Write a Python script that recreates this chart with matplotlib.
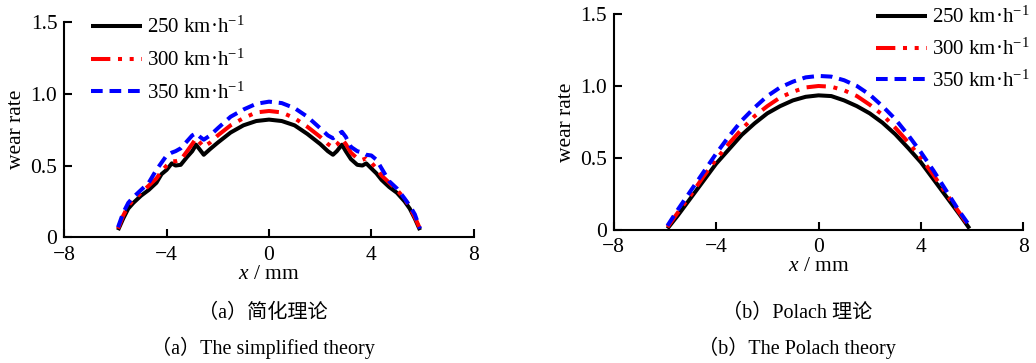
import matplotlib
matplotlib.use("Agg")
import matplotlib.pyplot as plt
from matplotlib.ticker import FixedLocator

plt.rcParams['font.family'] = ['Liberation Serif', 'Noto Sans CJK SC', 'DejaVu Sans']
plt.rcParams['mathtext.fontset'] = 'custom'
plt.rcParams['mathtext.rm'] = 'Liberation Serif'
plt.rcParams['mathtext.it'] = 'Liberation Serif:italic'

# ---------------- data ----------------
labels = ["250 km·h$^{-1}$", "300 km·h$^{-1}$", "350 km·h$^{-1}$"]

# (a) simplified theory
x_a = [-5.9, -5.7, -5.5, -5.3, -5.0, -4.7, -4.4, -4.2, -4.0, -3.8, -3.65, -3.45,
       -3.2, -3.0, -2.85, -2.7, -2.55, -2.3, -2.0, -1.5, -1.0, -0.5, 0.0,
       0.5, 1.0, 1.5, 2.0, 2.3, 2.5, 2.65, 2.85, 3.0, 3.2, 3.45, 3.65, 3.8,
       4.0, 4.2, 4.4, 4.7, 5.0, 5.3, 5.5, 5.7, 5.9]
a_250 = [0.05, 0.13, 0.20, 0.24, 0.29, 0.33, 0.38, 0.44, 0.47, 0.515, 0.50, 0.505,
         0.56, 0.60, 0.645, 0.61, 0.575, 0.615, 0.66, 0.73, 0.78, 0.81, 0.82,
         0.81, 0.78, 0.72, 0.65, 0.60, 0.575, 0.60, 0.645, 0.60, 0.545, 0.505, 0.50, 0.515,
         0.48, 0.445, 0.40, 0.35, 0.31, 0.25, 0.20, 0.13, 0.05]
a_300 = [0.06, 0.15, 0.22, 0.26, 0.31, 0.36, 0.41, 0.46, 0.50, 0.53, 0.53, 0.54,
         0.60, 0.65, 0.69, 0.66, 0.63, 0.66, 0.71, 0.78, 0.83, 0.87, 0.88,
         0.87, 0.83, 0.77, 0.70, 0.65, 0.625, 0.645, 0.685, 0.65, 0.59, 0.55, 0.54, 0.55,
         0.52, 0.48, 0.43, 0.38, 0.33, 0.27, 0.21, 0.14, 0.06]
a_350 = [0.07, 0.17, 0.24, 0.28, 0.33, 0.38, 0.47, 0.52, 0.57, 0.59, 0.60, 0.62,
         0.67, 0.71, 0.725, 0.70, 0.68, 0.71, 0.76, 0.84, 0.89, 0.93, 0.945,
         0.935, 0.90, 0.84, 0.76, 0.71, 0.69, 0.71, 0.735, 0.70, 0.63, 0.60, 0.59, 0.575,
         0.57, 0.54, 0.48, 0.39, 0.34, 0.27, 0.22, 0.16, 0.06]

# (b) Polach theory
x_b = [-5.9, -5.5, -5.0, -4.5, -4.0, -3.5, -3.0, -2.5, -2.0, -1.5, -1.0, -0.5, 0.0,
       0.5, 1.0, 1.5, 2.0, 2.5, 3.0, 3.5, 4.0, 4.5, 5.0, 5.5, 5.9]
b_250 = [0.01, 0.10, 0.22, 0.34, 0.46, 0.56, 0.66, 0.74, 0.81, 0.86, 0.90, 0.925, 0.935,
         0.93, 0.90, 0.86, 0.81, 0.745, 0.665, 0.57, 0.47, 0.35, 0.23, 0.11, 0.01]
b_300 = [0.02, 0.12, 0.24, 0.37, 0.49, 0.60, 0.70, 0.79, 0.86, 0.92, 0.96, 0.99, 1.00,
         0.995, 0.97, 0.93, 0.87, 0.80, 0.71, 0.61, 0.50, 0.38, 0.25, 0.12, 0.02]
b_350 = [0.03, 0.14, 0.27, 0.40, 0.53, 0.65, 0.76, 0.85, 0.93, 0.99, 1.03, 1.06, 1.07,
         1.065, 1.04, 1.00, 0.94, 0.86, 0.77, 0.66, 0.54, 0.41, 0.27, 0.13, 0.03]

x_ticks = [-8, -4, 0, 4, 8]
x_ticklabels = ["−8", "−4", "0", "4", "8"]
y_ticks = [0, 0.5, 1.0, 1.5]
y_ticklabels = ["0", "0.5", "1.0", "1.5"]

captions_cn = ["（a）简化理论", "（b）Polach 理论"]
captions_en = ["（a）The simplified theory", "（b）The Polach theory"]

# ---------------- figure ----------------
W, H = 1036, 363
fig = plt.figure(figsize=(W / 100, H / 100), dpi=100)

def px_axes(l, r, b, t):
    return fig.add_axes([l / W, 1 - b / H, (r - l) / W, (b - t) / H])

axA = px_axes(64.3, 473.7, 237.3, 22.0)
axB = px_axes(613.7, 1023.3, 230.0, 14.0)

styles = [
    dict(color='black', lw=2.9, ls='-'),
    dict(color='#ff0000', lw=2.9, ls=(0, (4.8, 1.9, 1.0, 1.9, 1.0, 1.9))),
    dict(color='#0000ff', lw=2.9, ls=(0, (2.9, 1.7))),
]

for ax, xs, series in [(axA, x_a, [a_250, a_300, a_350]),
                       (axB, x_b, [b_250, b_300, b_350])]:
    for ys, st, lab in zip(series, styles, labels):
        ax.plot(xs, ys, label=lab, solid_capstyle='butt', dash_capstyle='butt', **st)
    ax.set_xlim(-8, 8)
    ax.set_ylim(0, 1.5)
    ax.spines['top'].set_visible(False)
    ax.spines['right'].set_visible(False)
    ax.spines['left'].set_linewidth(1.5)
    ax.spines['bottom'].set_linewidth(1.5)
    ax.xaxis.set_major_locator(FixedLocator(x_ticks))
    ax.set_xticklabels(x_ticklabels)
    ax.yaxis.set_major_locator(FixedLocator(y_ticks))
    ax.set_yticklabels(y_ticklabels)
    ax.tick_params(direction='in', length=6, width=1.5, labelsize=15.5)
    ax.tick_params(axis='x', pad=6)
    ax.tick_params(axis='y', pad=5)
    ax.set_ylabel("wear rate", fontsize=15.5, labelpad=3)
    ax.set_xlabel("$x$ / mm", fontsize=15.5, labelpad=0)
    for sp in ax.spines.values():
        sp.set_clip_on(False)

legA = axA.legend(loc='upper left', bbox_to_anchor=(91 / W, 1 - 17 / H),
                  bbox_transform=fig.transFigure, frameon=False, fontsize=15,
                  handlelength=2.45, handletextpad=0.25, labelspacing=0.55,
                  borderpad=0, borderaxespad=0)
legB = axB.legend(loc='upper left', bbox_to_anchor=(876 / W, 1 - 7 / H),
                  bbox_transform=fig.transFigure, frameon=False, fontsize=15,
                  handlelength=2.45, handletextpad=0.25, labelspacing=0.5,
                  borderpad=0, borderaxespad=0)

for cx, cn, en in [(263, captions_cn[0], captions_en[0]),
                   (797, captions_cn[1], captions_en[1])]:
    fig.text(cx / W, 1 - 313 / H, cn, ha='center', va='center', fontsize=14.5)
    fig.text(cx / W, 1 - 348 / H, en, ha='center', va='center', fontsize=14.5)

fig.savefig("out.png", dpi=100)
